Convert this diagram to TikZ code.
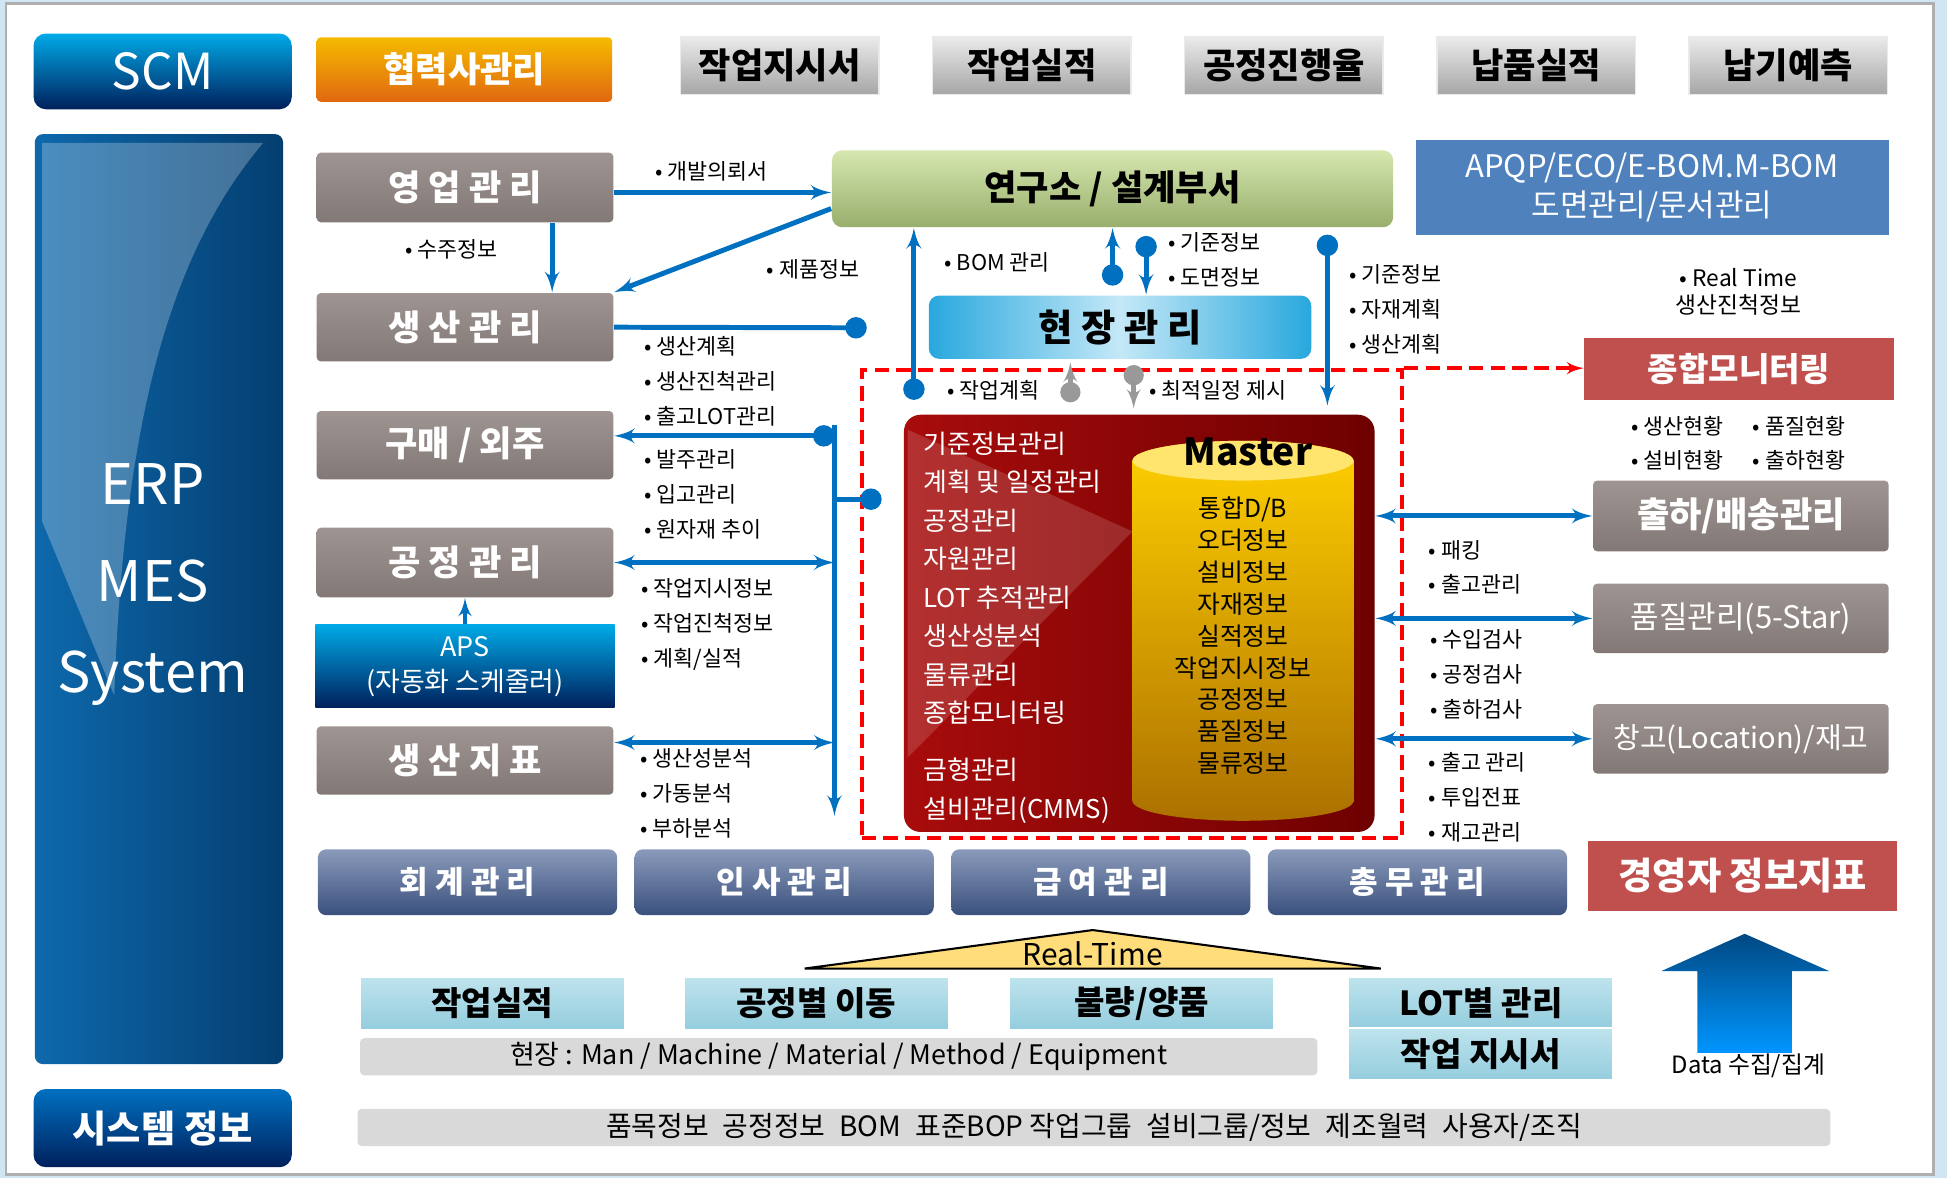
\documentclass[tikz,border=0pt]{standalone}
\usepackage{fontspec}
\setmainfont{Noto Sans CJK KR}
\usetikzlibrary{arrows,shapes}

\definecolor{lineblue}{RGB}{0,112,192}
\definecolor{taupeT}{RGB}{158,148,145}
\definecolor{taupeB}{RGB}{130,120,117}
\definecolor{grayT}{RGB}{234,234,234}
\definecolor{grayB}{RGB}{166,166,166}
\definecolor{slateT}{RGB}{138,154,186}
\definecolor{slateB}{RGB}{58,80,125}
\definecolor{redM}{RGB}{192,80,77}
\definecolor{apqpblue}{RGB}{79,129,189}
\definecolor{greenT}{RGB}{214,231,175}
\definecolor{greenB}{RGB}{152,174,108}
\definecolor{cyanL}{RGB}{196,232,247}
\definecolor{cyanD}{RGB}{40,168,222}
\definecolor{navy}{RGB}{0,32,92}
\definecolor{skyb}{RGB}{0,170,232}
\definecolor{orangeT}{RGB}{245,187,0}
\definecolor{orangeB}{RGB}{224,104,16}
\definecolor{iceT}{RGB}{190,227,237}
\definecolor{iceB}{RGB}{148,205,222}
\definecolor{barg}{RGB}{217,217,217}
\definecolor{redL}{RGB}{168,12,12}
\definecolor{redD}{RGB}{110,0,0}
\definecolor{gold}{RGB}{255,208,0}
\definecolor{bronze}{RGB}{172,112,0}
\definecolor{goldtop}{RGB}{255,228,110}
\definecolor{roof}{RGB}{255,221,122}
\definecolor{bgblue}{RGB}{208,230,243}
\definecolor{frame}{RGB}{175,175,175}
\definecolor{erpL}{RGB}{14,105,172}
\definecolor{erpR}{RGB}{4,62,112}
\definecolor{upT}{RGB}{0,72,130}
\definecolor{upB}{RGB}{0,150,255}

\newcommand{\pxu}{0.6pt}
\newcommand{\notefont}{\fontsize{10.5}{16.8}\selectfont}
\newcommand{\boxfont}{\fontsize{17}{20}\selectfont\bfseries}
\newcommand{\topfont}{\fontsize{17}{20}\selectfont\bfseries}

\tikzstyle{gbox} = [rectangle, rounded corners=2pt, inner sep=0pt, text=white, font=\boxfont, top color=taupeT, bottom color=taupeB]
\tikzstyle{topbox} = [rectangle, inner sep=0pt, draw=grayT, top color=grayT, bottom color=grayB, font=\topfont]
\tikzstyle{slbox} = [rectangle, rounded corners=4pt, inner sep=0pt, text=white, font=\fontsize{15}{18}\selectfont\bfseries, top color=slateT, bottom color=slateB]
\tikzstyle{redbox} = [rectangle, inner sep=0pt, text=white, fill=redM, font=\fontsize{16}{19}\selectfont\bfseries]
\tikzstyle{icebox} = [rectangle, inner sep=0pt, draw=white, top color=iceT, bottom color=iceB, font=\fontsize{16}{19}\selectfont\bfseries]
\tikzstyle{darkblue} = [rectangle, rounded corners=6pt, inner sep=0pt, text=white, top color=skyb, bottom color=navy]
\tikzstyle{note} = [anchor=west, inner sep=0pt, align=left, font=\notefont]
\tikzstyle{flow} = [draw=lineblue, line width=2.4pt]
\tikzstyle{gflow} = [draw=gray!80, line width=2.2pt]
\tikzstyle{reddash} = [draw=red, line width=1.8pt, dash pattern=on 7pt off 3.5pt]
\tikzset{sz/.style 2 args={minimum width=#1*\pxu, minimum height=#2*\pxu}}

\begin{document}
\begin{tikzpicture}[x=0.6pt, y=-0.6pt, node distance=121.8pt, >=latex', thick]
    \useasboundingbox (0,0) rectangle (1568,949);
    \fill[bgblue] (0,0) rectangle (1568,949);
    \path[fill=white, draw=frame, line width=1.2pt] (5,3) rectangle (1557,946);

    % left column
    \node[darkblue, sz={208}{61}, font=\fontsize{24}{28}\selectfont] (scm) at (131,57.5) {SCM};
    \node[darkblue, sz={200}{749}, rounded corners=4pt, left color=erpL, right color=erpR] (erp) at (128,482.5) {};
    \fill[white, opacity=.25] (34,115) -- (212,115) .. controls (140,200) and (100,330) .. (92,560) -- (34,420) -- cycle;
    \node[text=white, font=\fontsize{27}{30}\selectfont] (erpa) at (123,390) {ERP};
    \node[text=white, font=\fontsize{27}{30}\selectfont, below of=erpa, node distance=46.8pt] (erpb) {MES};
    \node[text=white, font=\fontsize{27}{30}\selectfont, below of=erpb, node distance=46.8pt] (erpc) {System};
    \node[darkblue, sz={208}{63}, top color=lineblue, bottom color=navy, font=\fontsize{18}{22}\selectfont\bfseries] (sys) at (131,908.5) {시스템 정보};

    % top row
    \node[rectangle, rounded corners=2pt, inner sep=0pt, sz={238}{52}, top color=orangeT, bottom color=orangeB, text=white, font=\topfont] (hyeop) at (374,56) {협력사관리};
    \node[topbox, sz={160}{46}] (t1) at (628,53) {작업지시서};
    \node[topbox, sz={160}{46}, right of=t1] (t2) {작업실적};
    \node[topbox, sz={160}{46}, right of=t2] (t3) {공정진행율};
    \node[topbox, sz={160}{46}, right of=t3] (t4) {납품실적};
    \node[topbox, sz={160}{46}, right of=t4] (t5) {납기예측};

    % erp modules
    \node[gbox, sz={239}{56}] (yeong) at (374.5,151) {영 업 관 리};
    \node[gbox, sz={239}{55}] (saeng) at (374.5,263.5) {생 산 관 리};
    \node[gbox, sz={239}{55}] (gumae) at (374.5,358.5) {구매 / 외주};
    \node[gbox, sz={239}{56}] (gongjeong) at (374.5,453) {공 정 관 리};
    \node[darkblue, rounded corners=0pt, sz={241}{67}, align=center, font=\fontsize{13}{17}\selectfont] (aps) at (374.5,536.5) {APS\\(자동화 스케줄러)};
    \node[gbox, sz={239}{55}] (jipyo) at (374.5,612.5) {생 산 지 표};

    \node[slbox, sz={241}{53}] (hoegye) at (376.5,710.5) {회 계 관 리};
    \node[slbox, sz={241}{53}, right of=hoegye, node distance=153pt] (insa) {인 사 관 리};
    \node[slbox, sz={241}{53}, right of=insa, node distance=153pt] (geupyeo) {급 여 관 리};
    \node[slbox, sz={241}{53}, right of=geupyeo, node distance=153pt] (chongmu) {총 무 관 리};
    \node[redbox, sz={249}{57}, font=\fontsize{18}{22}\selectfont\bfseries] (kyeong) at (1403.5,705.5) {경영자 정보지표};

    % centre
    \node[rectangle, rounded corners=5pt, inner sep=0pt, sz={452}{62}, top color=greenT, bottom color=greenB, font=\topfont] (lab) at (896,152) {연구소 / 설계부서};
    \node[rectangle, inner sep=0pt, sz={381}{76}, fill=apqpblue, text=white, align=center, font=\fontsize{15}{19}\selectfont] (apqp) at (1330.5,151) {APQP/ECO/E-BOM.M-BOM\\도면관리/문서관리};
    \node[rectangle, rounded corners=5pt, inner sep=0pt, sz={308}{51}, left color=cyanD, right color=cyanD, middle color=cyanL, font=\fontsize{18}{22}\selectfont\bfseries] (hyeon) at (902,263.5) {현 장 관 리};
    \node[redbox, sz={249}{50}] (mon) at (1400.5,297) {종합모니터링};
    \node[gbox, sz={238}{57}] (chul) at (1402,415.5) {출하/배송관리};
    \node[gbox, sz={238}{56}, font=\fontsize{15}{18}\selectfont] (pum) at (1402,498) {품질관리(5-Star)};
    \node[gbox, sz={238}{56}, font=\fontsize{14}{18}\selectfont] (changgo) at (1402,595) {창고(Location)/재고};

    \node[reddash, rectangle, inner sep=0pt, sz={435}{377}] (dash) at (911.5,486.5) {};
    \node[rectangle, rounded corners=8pt, inner sep=0pt, sz={379}{336}, left color=redL, right color=redD] (mes) at (917.5,502) {};
    \fill[white, opacity=.15] (731,346) -- (912,428) -- (731,610) -- cycle;
    \path[top color=gold, bottom color=bronze] (912,371) -- (912,645) arc[start angle=180, end angle=0, x radius=89, y radius=16] -- (1090,371) arc[start angle=0, end angle=-180, x radius=89, y radius=16] -- cycle;
    \fill[goldtop] (1001,371) ellipse [x radius=89, y radius=16];
    \node[font=\fontsize{18}{22}\selectfont\bfseries] (master) at (1005,364) {Master};
    \node[align=center, font=\fontsize{12}{15.4}\selectfont] (db) at (1001,512) {통합D/B\\오더정보\\설비정보\\자재정보\\실적정보\\작업지시정보\\공정정보\\품질정보\\물류정보};
    \node[anchor=north west, inner sep=0pt, align=left, text=white, font=\fontsize{12.5}{18.6}\selectfont] (menu) at (743,347) {기준정보관리\\계획 및 일정관리\\공정관리\\자원관리\\LOT 추적관리\\생산성분석\\물류관리\\종합모니터링\\[9pt]금형관리\\설비관리(CMMS)};

    % bottom
    \draw[fill=roof, line width=1pt] (648,780) -- (880,749) -- (1112,780) -- cycle;
    \node[font=\fontsize{14.5}{17}\selectfont] (rt) at (880,768) {Real-Time};
    \node[icebox, sz={213}{42}] (w1) at (396.5,808) {작업실적};
    \node[icebox, sz={213}{42}] (w2) at (657.5,808) {공정별 이동};
    \node[icebox, sz={213}{42}] (w3) at (919.5,808) {불량/양품};
    \node[icebox, sz={213}{41}] (w4) at (1192.5,807.5) {LOT별 관리};
    \node[icebox, sz={213}{42}] (w5) at (1192.5,849) {작업 지시서};
    \node[rectangle, rounded corners=2pt, inner sep=0pt, sz={771}{30}, fill=barg, font=\fontsize{13}{16}\selectfont] (field) at (675.5,851) {현장 : Man / Machine / Material / Method / Equipment};
    \node[rectangle, rounded corners=2pt, inner sep=0pt, sz={1186}{30}, fill=barg, font=\fontsize{13.5}{16}\selectfont] (base) at (881,908) {품목정보\enspace 공정정보\enspace BOM\enspace 표준BOP 작업그룹\enspace 설비그룹/정보\enspace 제조월력\enspace 사용자/조직};
    \path[top color=upT, bottom color=upB] (1338,782) -- (1405,752) -- (1473,782) -- (1443,782) -- (1443,848) -- (1367,848) -- (1367,782) -- cycle;
    \node[font=\fontsize{11.5}{14}\selectfont] (data) at (1408,858) {Data 수집/집계};

    % notes
    \node[note] (n1) at (527,138) {• 개발의뢰서};
    \node[note] (n2) at (326,201) {• 수주정보};
    \node[note] (n3) at (617,217) {• 제품정보};
    \node[note] (n4) at (518,307) {• 생산계획\\• 생산진척관리\\• 출고LOT관리};
    \node[note] (n5) at (518,398) {• 발주관리\\• 입고관리\\• 원자재 추이};
    \node[note] (n6) at (516,503) {• 작업지시정보\\• 작업진척정보\\• 계획/실적};
    \node[note] (n7) at (515,639) {• 생산성분석\\• 가동분석\\• 부하분석};
    \node[note] (n8) at (760,211) {• BOM 관리};
    \node[note] (n9) at (940,209) {• 기준정보\\• 도면정보};
    \node[note] (n10) at (762,314) {• 작업계획};
    \node[note] (n11) at (925,314) {• 최적일정 제시};
    \node[note] (n12) at (1086,249) {• 기준정보\\• 자재계획\\• 생산계획};
    \node[note, anchor=center, align=center, font=\fontsize{11}{13.2}\selectfont] (n13) at (1400,235) {• Real Time\\생산진척정보};
    \node[note] (n14) at (1313,357) {• 생산현황\\• 설비현황};
    \node[note] (n15) at (1411,357) {• 품질현황\\• 출하현황};
    \node[note] (n16) at (1150,457) {• 패킹\\• 출고관리};
    \node[note] (n17) at (1151,543) {• 수입검사\\• 공정검사\\• 출하검사};
    \node[note] (n18) at (1150,642) {• 출고 관리\\• 투입전표\\• 재고관리};

    % Once the boxes stand, the connectors
    \coordinate (a1) at ([yshift=-2.4pt]yeong.east);
    \draw[flow,->] (a1) -- (a1 -| lab.west);
    \coordinate (a2) at ([xshift=-30pt]yeong.south east);
    \draw[flow,->] (a2) -- (a2 |- saeng.north);
    \coordinate (a3) at ([yshift=-9.6pt]lab.west);
    \draw[flow,->] (a3) -- (saeng.north east);
    \coordinate (d1) at (698,264);
    \draw[flow,-*] (saeng.east) -- (d1);
    \coordinate (tt) at (672,342);
    \coordinate (tb) at (672,657);
    \draw[flow,->] (tt) -- (tb);
    \coordinate (a4) at ([yshift=4.5pt]gumae.east);
    \draw[flow,*->] (a4 -| tt) -- (a4);
    \draw[flow,<->] (gongjeong.east) -- (gongjeong.east -| tt);
    \coordinate (a5) at ([yshift=8.7pt]jipyo.east);
    \draw[flow,<->] (a5) -- (a5 -| tt);
    \coordinate (d2) at (710,402);
    \draw[flow,-*] (d2 -| tt) -- (d2);
    \draw[flow,line width=2pt,->] (aps.north) -- (gongjeong.south);
    \coordinate (d3) at (736,322);
    \draw[flow,*->] (d3) -- (d3 |- lab.south);
    \coordinate (d4) at (896,230);
    \draw[flow,*->] (d4) -- (d4 |- lab.south);
    \coordinate (d5) at (923,190);
    \draw[flow,*->] (d5) -- (d5 |- hyeon.north);
    \coordinate (d6) at (862,324);
    \coordinate (e6) at (862,292);
    \draw[gflow,*->] (d6) -- (e6);
    \coordinate (d7) at (913,294);
    \coordinate (e7) at (913,329);
    \draw[gflow,*->] (d7) -- (e7);
    \coordinate (d8) at (1069,189);
    \draw[flow,*->,shorten >=4pt] (d8) -- (d8 |- mes.north);
    \draw[reddash,->] (dash.north east) -- (dash.north east -| mon.west);
    \draw[flow,<->] (chul.west -| mes.east) -- (chul.west);
    \draw[flow,<->] (pum.west -| mes.east) -- (pum.west);
    \draw[flow,<->] (changgo.west -| mes.east) -- (changgo.west);
\end{tikzpicture}
\end{document}
